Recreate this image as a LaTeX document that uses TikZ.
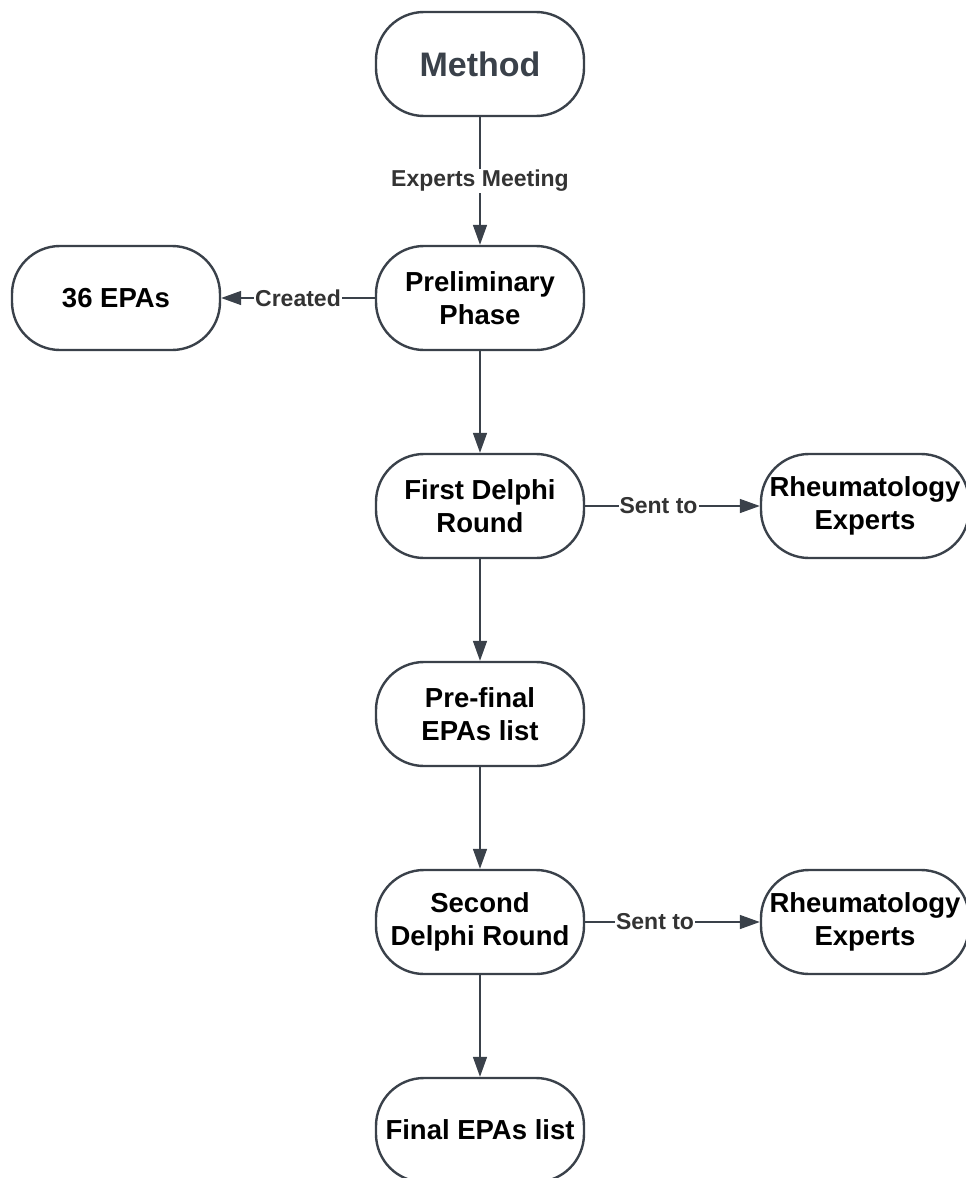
\documentclass[tikz,border=0pt]{standalone}
\usepackage{fontspec}
\setmainfont{Liberation Sans}
\usetikzlibrary{arrows.meta, positioning}
\definecolor{linegray}{HTML}{3A414A}
\definecolor{labelgray}{HTML}{333333}

\begin{document}
\begin{tikzpicture}[node distance=208pt,
    stage/.style={rectangle, draw=linegray, line width=2.4pt, rounded corners=48pt, minimum width=208pt, minimum height=104pt, align=center, inner sep=2pt, font=\fontsize{27.5}{33}\selectfont\bfseries},
    arrow/.style={line width=1.5pt, draw=linegray, -{Triangle[length=20pt, width=14pt]}},
    edgelabel/.style={fill=white, text=labelgray, inner sep=1pt, font=\fontsize{23}{27}\selectfont\bfseries}]

    \useasboundingbox (-480pt,64pt) rectangle (486pt,-1114pt);

    \node [stage, text=linegray, font=\fontsize{34}{40}\selectfont\bfseries] (method) {Method};
    \node [stage, below of=method, node distance=234pt] (prelim) {Preliminary\\Phase};
    \node [stage, left of=prelim, node distance=364pt] (epas) {36 EPAs};
    \node [stage, below of=prelim] (first) {First Delphi\\Round};
    \node [stage, right of=first, node distance=385pt] (rheumA) {Rheumatology\\Experts};
    \node [stage, below of=first] (prefinal) {Pre-final\\EPAs list};
    \node [stage, below of=prefinal] (second) {Second\\Delphi Round};
    \node [stage, right of=second, node distance=385pt] (rheumB) {Rheumatology\\Experts};
    \node [stage, below of=second] (final) {Final EPAs list};

    \draw [arrow] (method) -- node[edgelabel, pos=0.5] {Experts Meeting} (prelim);
    \draw [arrow] (prelim) -- node[edgelabel] {Created} (epas);
    \draw [arrow] (prelim) -- (first);
    \draw [arrow] (first) -- node[edgelabel, pos=0.42] {Sent to} (rheumA);
    \draw [arrow] (first) -- (prefinal);
    \draw [arrow] (prefinal) -- (second);
    \draw [arrow] (second) -- node[edgelabel, pos=0.4] {Sent to} (rheumB);
    \draw [arrow] (second) -- (final);
\end{tikzpicture}
\end{document}
